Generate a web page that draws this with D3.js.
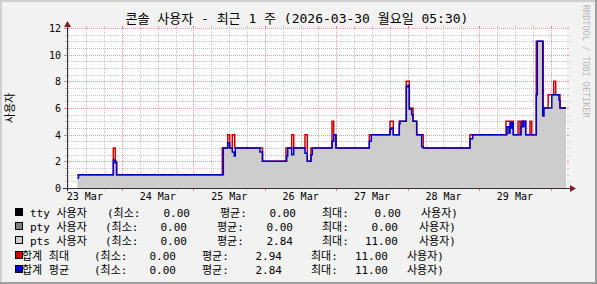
<!DOCTYPE html>
<html><head><meta charset="utf-8">
<script src="https://cdn.jsdelivr.net/npm/d3@7"></script>
<style>
body{margin:0;background:#f2f2f2}
svg{display:block}
text{font-family:"DejaVu Sans Mono","Noto Sans CJK KR",monospace;fill:#000}
</style>
</head><body><svg id="c" width="597" height="284"></svg>
<script>
// ---------- data ----------
const titleText = "콘솔 사용자 - 최근 1 주 (2026-03-30 월요일 05:30)";
const yTitle = "사용자";
const watermark = "RRDTOOL / TOBI OETIKER";
const startTime = new Date(2026, 2, 23, 5, 30);
const endTime = new Date(2026, 2, 30, 5, 30);
// hours since start at which the values change (step data)
const stepHours = [3.46, 3.86, 15.56, 16.13, 16.23, 16.67, 52.18, 52.52, 54.0, 54.67, 55.54, 56.2, 56.35, 56.55, 64.85, 65.69, 73.58, 73.82, 74.16, 75.5, 76.17, 79.97, 80.74, 81.98, 82.42, 89.04, 89.61, 90.38, 101.57, 102.24, 108.53, 108.96, 109.63, 111.65, 111.89, 114.0, 114.58, 115.01, 115.82, 116.26, 117.5, 119.18, 119.72, 135.4, 136.32, 147.5, 147.84, 148.51, 148.85, 149.18, 149.52, 149.96, 151.54, 152.21, 152.54, 152.88, 153.22, 153.55, 154.12, 155.57, 156.14, 157.68, 158.02, 159.84, 160.04, 160.27, 161.68, 162.89, 163.53, 164.2, 165.31, 165.65, 167.66];
const avgValues = [0.75, 1, 2.1, 1.9, 1.9, 1, 1, 3, 3.4, 3, 2.7, 2.4, 2.4, 3, 2.7, 2, 2, 2.4, 3, 2.5, 3, 2.6, 2, 2.5, 3, 3.5, 4, 3, 3.5, 4, 4.4, 4.5, 4, 4.8, 5, 7.6, 7.7, 5.9, 5.5, 5, 4, 3.1, 3, 3.7, 4, 4, 4.6, 4.1, 4.9, 4.5, 4.9, 4, 4, 4, 4.6, 5, 4.6, 5, 4, 4, 4, 7, 11, 5.4, 5.4, 6, 6, 7, 7, 7, 6.6, 6, 6];
const maxValues = [1, 1, 3, 3, 2, 1, 3, 3, 4, 3, 4, 4, 3, 3, 3, 2, 3, 3, 3, 4, 3, 4, 2, 3, 3, 5, 4, 3, 4, 4, 5, 5, 4, 5, 5, 8, 8, 6, 6, 5, 4, 4, 3, 4, 4, 5, 5, 5, 5, 5, 5, 4, 5, 4, 5, 5, 5, 5, 4, 5, 4, 11, 11, 11, 6, 6, 7, 7, 8, 7, 7, 6, 6];
const yTicks = [0, 2, 4, 6, 8, 10, 12];
const legendNames = ["tty 사용자", "pty 사용자", "pts 사용자", "합계 최대", "합계 평균"];
const legendMin = ["0.00", "0.00", "0.00", "0.00", "0.00"];
const legendAvg = ["0.00", "0.00", "2.84", "2.94", "2.84"];
const legendMax = ["0.00", "0.00", "11.00", "11.00", "11.00"];
const legendUnit = "사용자)";

// ---------- styles ----------
const colors = {tty: "#000000", pty: "#808080", pts: "#cdcdcd", max: "#cc0000", avg: "#0000cc"};
const legendColors = [colors.tty, colors.pty, colors.pts, colors.max, colors.avg];

const svg = d3.select("#c");
const W = 597, H = 284;
const L = 67, R = 567, T = 28, B = 188;

// background & 3D border
svg.append("rect").attr("width", W).attr("height", H).attr("fill", "#f2f2f2");
svg.append("path").attr("d", `M0,0H${W}V2H2V${H}H0Z`).attr("fill", "#cfcfcf");
svg.append("path").attr("d", `M${W},${H}H0V${H-2}H${W-2}V0H${W}Z`).attr("fill", "#9e9e9e");
svg.append("rect").attr("x", L).attr("y", T).attr("width", R - L).attr("height", B - T).attr("fill", "#fff");

const x = d3.scaleTime().domain([startTime, endTime]).range([L, R]);
const y = d3.scaleLinear().domain([0, 12]).range([B, T]);
const px = v => Math.round(v) + 0.5;

const g = svg.append("g").attr("shape-rendering", "crispEdges");
// horizontal grid
const yMinor = d3.range(0, 12.01, 0.5).filter(v => v % 2 !== 0);
yMinor.forEach(v => {
  g.append("line").attr("x1", L).attr("x2", R).attr("y1", px(y(v))).attr("y2", px(y(v)))
    .attr("stroke", "#c6c6c6").attr("stroke-dasharray", "1,1");
  g.append("line").attr("x1", L - 2).attr("x2", L).attr("y1", px(y(v))).attr("y2", px(y(v))).attr("stroke", "#c6c6c6");
  g.append("line").attr("x1", R).attr("x2", R + 2).attr("y1", px(y(v))).attr("y2", px(y(v))).attr("stroke", "#c6c6c6");
});
yTicks.forEach(v => {
  if (v > 0) g.append("line").attr("x1", L).attr("x2", R).attr("y1", px(y(v))).attr("y2", px(y(v)))
    .attr("stroke", "#eb9c9c").attr("stroke-dasharray", "1,1");
  g.append("line").attr("x1", L - 3).attr("x2", L).attr("y1", px(y(v))).attr("y2", px(y(v))).attr("stroke", "#e08080");
  g.append("line").attr("x1", R).attr("x2", R + 2).attr("y1", px(y(v))).attr("y2", px(y(v))).attr("stroke", "#e08080");
});
// vertical grid
const minorT = d3.timeHour.every(6).range(startTime, endTime).filter(t => t.getHours() !== 0);
minorT.forEach(t => {
  g.append("line").attr("x1", px(x(t))).attr("x2", px(x(t))).attr("y1", T).attr("y2", B)
    .attr("stroke", "#c6c6c6").attr("stroke-dasharray", "1,1");
  g.append("line").attr("x1", px(x(t))).attr("x2", px(x(t))).attr("y1", B).attr("y2", B + 2).attr("stroke", "#c6c6c6");
  g.append("line").attr("x1", px(x(t))).attr("x2", px(x(t))).attr("y1", T - 2).attr("y2", T).attr("stroke", "#c6c6c6");
});
const majorT = d3.timeDay.range(startTime, endTime);
majorT.forEach(t => {
  g.append("line").attr("x1", px(x(t))).attr("x2", px(x(t))).attr("y1", T).attr("y2", B)
    .attr("stroke", "#eb9c9c").attr("stroke-dasharray", "1,1");
  g.append("line").attr("x1", px(x(t))).attr("x2", px(x(t))).attr("y1", B).attr("y2", B + 3).attr("stroke", "#e08080");
  g.append("line").attr("x1", px(x(t))).attr("x2", px(x(t))).attr("y1", T - 2).attr("y2", T).attr("stroke", "#e08080");
});

// data
const data = stepHours.map((h, i) => ({t: d3.timeSecond.offset(startTime, Math.round(h * 3600)), avg: avgValues[i], max: maxValues[i]}));
svg.append("path").datum(data)
  .attr("d", d3.area().curve(d3.curveStepAfter).x(d => x(d.t)).y0(y(0)).y1(d => y(d.avg)))
  .attr("fill", colors.pts);
svg.append("path").datum(data)
  .attr("d", d3.line().curve(d3.curveStepAfter).x(d => x(d.t)).y(d => y(d.max)))
  .attr("fill", "none").attr("stroke", colors.max).attr("stroke-width", 1.5);
svg.append("path").datum(data)
  .attr("d", d3.line().curve(d3.curveStepAfter).x(d => x(d.t)).y(d => y(d.avg)))
  .attr("fill", "none").attr("stroke", colors.avg).attr("stroke-width", 1.5);

// axes
const ax = svg.append("g").attr("shape-rendering", "crispEdges");
ax.append("line").attr("x1", L - 4).attr("x2", R + 4).attr("y1", px(B)).attr("y2", px(B)).attr("stroke", "#333");
ax.append("line").attr("x1", px(L)).attr("x2", px(L)).attr("y1", B + 3).attr("y2", T - 4).attr("stroke", "#333");
svg.append("path").attr("d", `M${px(L)-3.5},${T-1}L${px(L)},${T-7}L${px(L)+3.5},${T-1}Z`).attr("fill", "#7f1f1f");
svg.append("path").attr("d", `M${R+3},${px(B)-3.5}L${R+9},${px(B)}L${R+3},${px(B)+3.5}Z`).attr("fill", "#7f1f1f");

// y labels
svg.append("g").selectAll("text").data(yTicks).join("text")
  .attr("x", 61).attr("y", d => y(d) + 4).attr("text-anchor", "end")
  .attr("font-size", 10).text(d => d);
// x labels at noon
const fmt = d3.timeFormat("%d %b");
svg.append("g").selectAll("text").data(majorT.concat([]).map(t => d3.timeHour.offset(t, 12)).concat([d3.timeHour.offset(startTime, 6.5)]).filter(t => t > startTime && t < endTime))
  .join("text").attr("x", d => x(d)).attr("y", 200).attr("text-anchor", "middle")
  .attr("font-size", 10).text(d => fmt(d));

// title
svg.append("text").attr("x", 297).attr("y", 23).attr("text-anchor", "middle").attr("font-size", 13).text(titleText);
// y title
svg.append("text").attr("transform", "translate(14,108) rotate(-90)").attr("text-anchor", "middle")
  .attr("font-size", 11).text(yTitle);
// watermark
svg.append("text").attr("transform", "translate(583,5) rotate(90)").attr("font-size", 8.5)
  .style("fill", "#b8b8b8").text(watermark);

// legend
const rowY = [217, 231, 245, 260, 274];
const cols = [
  {name: 30, min: 107, minV: 190, avg: 220, avgV: 296, mx: 322, mxV: 401, unit: 421},
  {name: 30, min: 105, minV: 187, avg: 217, avgV: 293, mx: 322, mxV: 398, unit: 419},
  {name: 30, min: 105, minV: 187, avg: 217, avgV: 293, mx: 322, mxV: 398, unit: 419},
  {name: 22, min: 94, minV: 176, avg: 202, avgV: 282, mx: 311, mxV: 388, unit: 407},
  {name: 22, min: 94, minV: 176, avg: 202, avgV: 282, mx: 311, mxV: 388, unit: 407}
];
const lg = svg.append("g").attr("font-size", 11);
legendNames.forEach((n, i) => {
  const yy = rowY[i], c = cols[i];
  lg.append("rect").attr("x", 15.5).attr("y", yy - 8.5).attr("width", 7).attr("height", 7)
    .attr("fill", legendColors[i]).attr("stroke", "#000").attr("stroke-width", 1).attr("shape-rendering", "crispEdges");
  lg.append("text").attr("x", c.name).attr("y", yy).text(n);
  lg.append("text").attr("x", c.min).attr("y", yy).text("(최소:");
  lg.append("text").attr("x", c.minV).attr("y", yy).attr("text-anchor", "end").text(legendMin[i]);
  lg.append("text").attr("x", c.avg).attr("y", yy).text("평균:");
  lg.append("text").attr("x", c.avgV).attr("y", yy).attr("text-anchor", "end").text(legendAvg[i]);
  lg.append("text").attr("x", c.mx).attr("y", yy).text("최대:");
  lg.append("text").attr("x", c.mxV).attr("y", yy).attr("text-anchor", "end").text(legendMax[i]);
  lg.append("text").attr("x", c.unit).attr("y", yy).text(legendUnit);
});
</script>
</body></html>
